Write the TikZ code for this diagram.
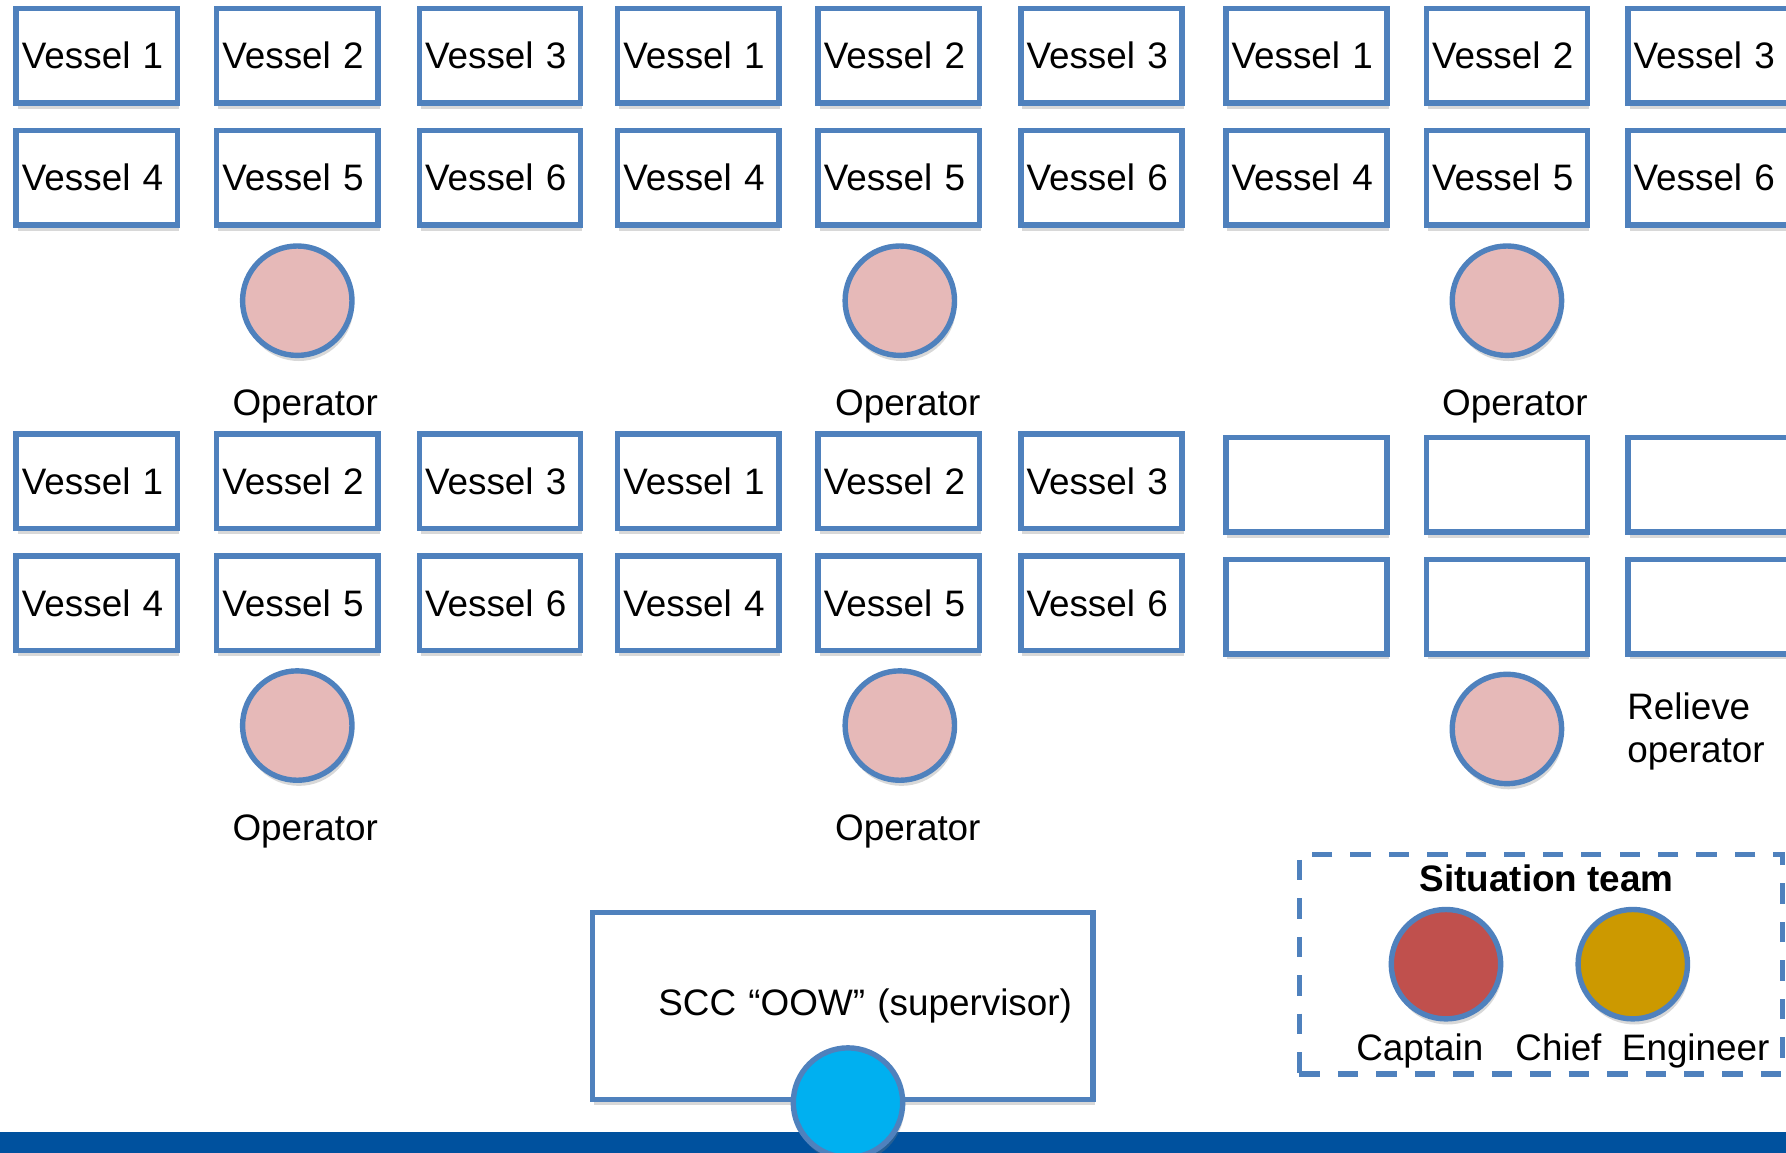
\documentclass[tikz,border=0pt]{standalone}
\usepackage{fontspec}
\setmainfont{Liberation Sans}
\usepackage{tikz}
\usetikzlibrary{shadows}

\definecolor{boxblue}{RGB}{79,129,189}
\definecolor{oppink}{RGB}{230,185,184}
\definecolor{captred}{RGB}{192,80,77}
\definecolor{chiefgold}{RGB}{204,153,0}
\definecolor{oowcyan}{RGB}{0,176,240}
\definecolor{barblue}{RGB}{0,81,158}

\newcommand{\diagfont}{\fontsize{9.2}{11}\selectfont}

\begin{document}
\begin{tikzpicture}[x=0.01cm, y=-0.01cm, every node/.style={font=\diagfont},
		softshadow/.style={drop shadow={shadow xshift=0.4pt, shadow yshift=-1.4pt, opacity=0.3}},
		vessel/.style={draw=boxblue, line width=1.35pt, fill=white, minimum width=1.415cm, minimum height=0.83cm,
			text width=1.315cm, inner xsep=0.05cm, inner ysep=0pt, align=left, softshadow},
		person/.style={draw=boxblue, circle, line width=1.35pt, minimum size=0.96cm, inner sep=0pt, softshadow},
		oowbox/.style={draw=boxblue, line width=1.35pt, fill=white, minimum width=4.39cm, minimum height=1.64cm,
			text width=4.02cm, inner xsep=0.185cm, align=right, softshadow},
		teambox/.style={draw=boxblue, line width=1.35pt, dash pattern=on 5.1pt off 4.5pt, minimum width=4.24cm, minimum height=1.93cm}]
	\path[use as bounding box] (0,0) rectangle (1568,1012);
	\clip (0,0) rectangle (1568,1012);
	\fill[white] (0,0) rectangle (1568,1012);
	
	% Vessel boxes, three groups of three columns
	\foreach \x [count=\i] in {85,261,439,613,789,967,1147,1323,1500} {
		\pgfmathtruncatemacro\vup{mod(\i-1,3)+1}
		\pgfmathtruncatemacro\vdown{\vup+3}
		\node[vessel] (a\i) at (\x,49) {Vessel \vup};
		\node[vessel] (b\i) at (\x,156) {Vessel \vdown};
		
		% The third group of the lower block has no vessels yet
		\ifnum\i<7
		\node[vessel] (c\i) at (\x,422.5) {Vessel \vup};
		\node[vessel] (d\i) at (\x,529.5) {Vessel \vdown};
		\else
		\node[vessel] (c\i) at (\x,425.5) {};
		\node[vessel] (d\i) at (\x,532.5) {};
		\fi
	}
	
	% Operators
	\foreach \x/\y/\n in {261/264/1, 790/264/2, 1323/264/3, 261/637/4, 790/637/5} {
		\node[person, fill=oppink] (op\n) at (\x,\y) {};
		\node (oplabel\n) at (\x+7,\y+93) {Operator};
	}
	\node[person, fill=oppink] (relieve) at (1323,640) {};
	\node[anchor=west, inner sep=0pt, align=left, font=\fontsize{9.2}{10.8}\selectfont] (relievelabel) at (1428,642) {Relieve\\operator};
	
	% Situation team
	\node[teambox] (team) at (1353,846.5) {};
	\node[font=\diagfont\bfseries] (teamtitle) at (1358,771) {Situation team};
	\node[person, fill=captred] (captain) at (1269.5,846.5) {};
	\node[person, fill=chiefgold] (chief) at (1433.5,846.5) {};
	\node (captainlabel) at (1246.5,922.5) {Captain};
	\node (chieflabel) at (1442,922.5) {Chief~~Engineer};
	
	% Supervisor in the SCC
	\fill[barblue] (0,994) rectangle (1568,1012);
	\node[oowbox] (scc) at (740,883) {SCC “OOW” (supervisor)};
	\node[person, fill=oowcyan] (oow) at (744.5,968) {};
\end{tikzpicture}
\end{document}
